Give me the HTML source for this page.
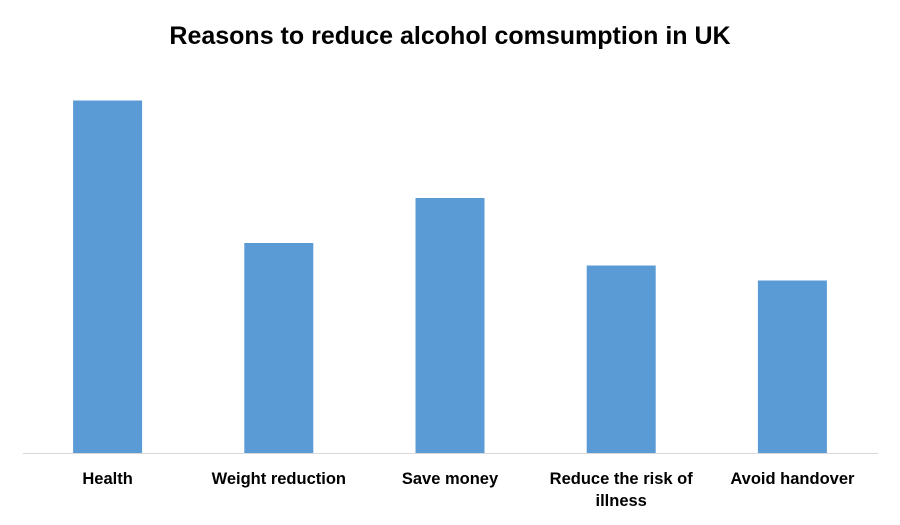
<!DOCTYPE html>
<html><head><meta charset="utf-8"><style>
body{margin:0;background:#fff;}
svg{display:block;font-family:"Liberation Sans",sans-serif;}
</style></head><body>
<svg id="chart" width="900" height="525">
<text x="450" y="44" text-anchor="middle" font-size="25" font-weight="bold" fill="#000">Reasons to reduce alcohol comsumption in UK</text>
<line x1="23" y1="453.5" x2="878" y2="453.5" stroke="#d9d9d9" stroke-width="1"/>
<g id="bars"></g>
<g id="labels"></g>
</svg>
<script>
const categories = [["Health"],["Weight reduction"],["Save money"],["Reduce the risk of","illness"],["Avoid handover"]];
const values = [47, 28, 34, 25, 23];
const left = 22, right = 878, baseY = 453, pxPerUnit = 7.5;
const band = (right - left) / categories.length;
const barW = 69;
function xScale(i){ return left + band * i + band / 2; }
function yScale(v){ return baseY - v * pxPerUnit; }
const NS = "http://www.w3.org/2000/svg";
const gb = document.getElementById('bars'), gl = document.getElementById('labels');
values.forEach((v, i) => {
  const r = document.createElementNS(NS, 'rect');
  r.setAttribute('x', xScale(i) - barW / 2);
  r.setAttribute('y', yScale(v));
  r.setAttribute('width', barW);
  r.setAttribute('height', baseY - yScale(v));
  r.setAttribute('fill', '#5b9bd5');
  
  
  gb.appendChild(r);
  const t = document.createElementNS(NS, 'text');
  t.setAttribute('text-anchor', 'middle');
  t.setAttribute('font-size', '16.5');
  t.setAttribute('font-weight', 'bold');
  t.setAttribute('fill', '#000');
  
  
  categories[i].forEach((line, j) => {
    const ts = document.createElementNS(NS, 'tspan');
    ts.setAttribute('x', xScale(i));
    ts.setAttribute('y', 484 + j * 22);
    ts.textContent = line;
    t.appendChild(ts);
  });
  gl.appendChild(t);
});
</script>
</body></html>
